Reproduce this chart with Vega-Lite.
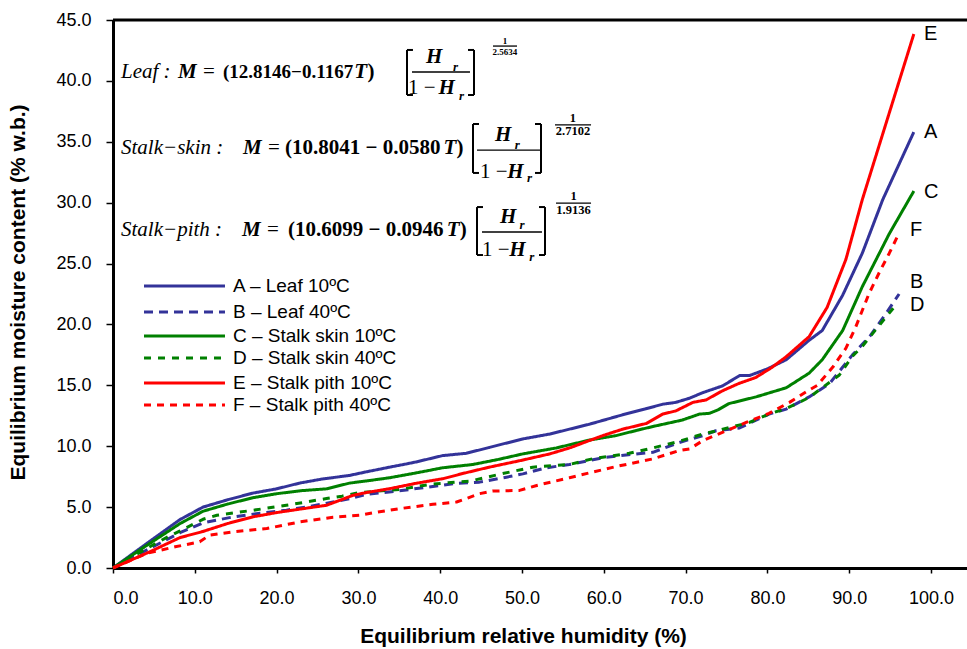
{
  "$schema": "https://vega.github.io/schema/vega-lite/v6.json",
  "width": 854,
  "height": 548,
  "autosize": {"type": "none"},
  "padding": {"left": 113, "top": 20, "right": 0, "bottom": 81},
  "background": "white",
  "config": {
    "view": {"stroke": null},
    "font": "Liberation Sans",
    "axis": {"grid": false, "domainColor": "black", "domainWidth": 3, "tickColor": "black", "tickWidth": 1.5, "labelColor": "black", "titleColor": "black", "labelFont": "Liberation Sans", "titleFont": "Liberation Sans", "labelFontSize": 18, "titleFontSize": 21, "titleFontWeight": "bold"}
  },
  "datasets": {
    "series": [
      {"k": "A", "label": "A – Leaf 10ºC"},
      {"k": "B", "label": "B – Leaf 40ºC"},
      {"k": "C", "label": "C – Stalk skin 10ºC"},
      {"k": "D", "label": "D – Stalk skin 40ºC"},
      {"k": "E", "label": "E – Stalk pith 10ºC"},
      {"k": "F", "label": "F – Stalk pith 40ºC"}
    ],
    "curves": [
      {"k":"A","x":0,"y":0},{"k":"A","x":4,"y":1.95},{"k":"A","x":8.2,"y":3.98},{"k":"A","x":11,"y":5.0},{"k":"A","x":14,"y":5.6},{"k":"A","x":17.1,"y":6.15},{"k":"A","x":20,"y":6.5},{"k":"A","x":22.8,"y":6.97},{"k":"A","x":25.5,"y":7.3},{"k":"A","x":28.9,"y":7.6},{"k":"A","x":31,"y":7.9},{"k":"A","x":33.8,"y":8.28},{"k":"A","x":35.9,"y":8.55},{"k":"A","x":37,"y":8.7},{"k":"A","x":40.3,"y":9.23},{"k":"A","x":43.2,"y":9.42},{"k":"A","x":46,"y":9.9},{"k":"A","x":50.1,"y":10.6},{"k":"A","x":53.4,"y":11.0},{"k":"A","x":58.2,"y":11.8},{"k":"A","x":62.3,"y":12.58},{"k":"A","x":65,"y":13.05},{"k":"A","x":67.2,"y":13.45},{"k":"A","x":68.8,"y":13.6},{"k":"A","x":70.5,"y":13.95},{"k":"A","x":72.1,"y":14.4},{"k":"A","x":74.5,"y":14.95},{"k":"A","x":76.6,"y":15.8},{"k":"A","x":77.8,"y":15.8},{"k":"A","x":80,"y":16.35},{"k":"A","x":82.3,"y":17.1},{"k":"A","x":85.1,"y":18.7},{"k":"A","x":86.7,"y":19.5},{"k":"A","x":89.2,"y":22.4},{"k":"A","x":91.6,"y":25.85},{"k":"A","x":94.1,"y":30.25},{"k":"A","x":97.9,"y":35.8},
      {"k":"B","x":0,"y":0},{"k":"B","x":4.1,"y":1.47},{"k":"B","x":8.2,"y":2.9},{"k":"B","x":11,"y":3.7},{"k":"B","x":14.7,"y":4.2},{"k":"B","x":18,"y":4.5},{"k":"B","x":21.2,"y":4.75},{"k":"B","x":24,"y":5.05},{"k":"B","x":26.9,"y":5.42},{"k":"B","x":29,"y":5.7},{"k":"B","x":31,"y":6.05},{"k":"B","x":34.6,"y":6.3},{"k":"B","x":39.1,"y":6.7},{"k":"B","x":42,"y":6.95},{"k":"B","x":44.8,"y":7.05},{"k":"B","x":48.1,"y":7.46},{"k":"B","x":50.1,"y":7.73},{"k":"B","x":53,"y":8.23},{"k":"B","x":55.8,"y":8.5},{"k":"B","x":60.3,"y":9.1},{"k":"B","x":63,"y":9.3},{"k":"B","x":66,"y":9.5},{"k":"B","x":69.2,"y":10.3},{"k":"B","x":72.1,"y":10.87},{"k":"B","x":73.7,"y":11.27},{"k":"B","x":76.6,"y":11.5},{"k":"B","x":80.2,"y":12.64},{"k":"B","x":82.3,"y":13.05},{"k":"B","x":85.1,"y":14.05},{"k":"B","x":87.6,"y":15.15},{"k":"B","x":90.4,"y":17.5},{"k":"B","x":92.6,"y":19.1},{"k":"B","x":94.5,"y":20.9},{"k":"B","x":96.1,"y":22.5},
      {"k":"C","x":0,"y":0},{"k":"C","x":4,"y":1.8},{"k":"C","x":8.2,"y":3.65},{"k":"C","x":11,"y":4.66},{"k":"C","x":14,"y":5.25},{"k":"C","x":17.1,"y":5.77},{"k":"C","x":20,"y":6.1},{"k":"C","x":23,"y":6.35},{"k":"C","x":26.1,"y":6.5},{"k":"C","x":28.9,"y":6.97},{"k":"C","x":31,"y":7.15},{"k":"C","x":33.8,"y":7.41},{"k":"C","x":37,"y":7.8},{"k":"C","x":40.3,"y":8.23},{"k":"C","x":44,"y":8.5},{"k":"C","x":47,"y":8.9},{"k":"C","x":50.1,"y":9.37},{"k":"C","x":54.2,"y":9.86},{"k":"C","x":58.2,"y":10.5},{"k":"C","x":61.5,"y":10.87},{"k":"C","x":64,"y":11.3},{"k":"C","x":66.4,"y":11.68},{"k":"C","x":69.6,"y":12.15},{"k":"C","x":71.7,"y":12.64},{"k":"C","x":72.9,"y":12.7},{"k":"C","x":74,"y":13.0},{"k":"C","x":75.3,"y":13.5},{"k":"C","x":78.6,"y":14.05},{"k":"C","x":82.3,"y":14.8},{"k":"C","x":85.1,"y":16.0},{"k":"C","x":86.7,"y":17.1},{"k":"C","x":89.2,"y":19.5},{"k":"C","x":91.6,"y":23.1},{"k":"C","x":94.9,"y":27.45},{"k":"C","x":97.9,"y":30.95},
      {"k":"D","x":0,"y":0},{"k":"D","x":4.1,"y":1.6},{"k":"D","x":6.7,"y":2.56},{"k":"D","x":8.2,"y":3.05},{"k":"D","x":11,"y":4.0},{"k":"D","x":12.7,"y":4.33},{"k":"D","x":14.7,"y":4.52},{"k":"D","x":17.1,"y":4.74},{"k":"D","x":21.2,"y":5.15},{"k":"D","x":26.1,"y":5.7},{"k":"D","x":28,"y":5.9},{"k":"D","x":30.2,"y":6.2},{"k":"D","x":35,"y":6.45},{"k":"D","x":39.1,"y":6.9},{"k":"D","x":43.6,"y":7.13},{"k":"D","x":47.6,"y":7.75},{"k":"D","x":51.3,"y":8.28},{"k":"D","x":55.8,"y":8.5},{"k":"D","x":58.6,"y":8.96},{"k":"D","x":63.1,"y":9.42},{"k":"D","x":66,"y":9.86},{"k":"D","x":69.2,"y":10.4},{"k":"D","x":72.1,"y":11.0},{"k":"D","x":74,"y":11.3},{"k":"D","x":77.8,"y":11.95},{"k":"D","x":80.2,"y":12.64},{"k":"D","x":82.3,"y":13.1},{"k":"D","x":85.1,"y":14.0},{"k":"D","x":88.8,"y":15.85},{"k":"D","x":90.4,"y":17.4},{"k":"D","x":91.6,"y":18.2},{"k":"D","x":93.7,"y":19.95},{"k":"D","x":95.4,"y":21.35},
      {"k":"E","x":0,"y":0},{"k":"E","x":4.5,"y":1.33},{"k":"E","x":8.2,"y":2.5},{"k":"E","x":11,"y":3.0},{"k":"E","x":14,"y":3.65},{"k":"E","x":17.1,"y":4.2},{"k":"E","x":20,"y":4.55},{"k":"E","x":23,"y":4.85},{"k":"E","x":26.1,"y":5.15},{"k":"E","x":27.5,"y":5.5},{"k":"E","x":29.3,"y":5.96},{"k":"E","x":31,"y":6.2},{"k":"E","x":33.8,"y":6.51},{"k":"E","x":37,"y":6.95},{"k":"E","x":40.3,"y":7.33},{"k":"E","x":43,"y":7.8},{"k":"E","x":46,"y":8.28},{"k":"E","x":50,"y":8.85},{"k":"E","x":53.4,"y":9.37},{"k":"E","x":56,"y":9.9},{"k":"E","x":58.2,"y":10.46},{"k":"E","x":60,"y":10.9},{"k":"E","x":62.3,"y":11.4},{"k":"E","x":65.2,"y":11.87},{"k":"E","x":67.2,"y":12.64},{"k":"E","x":68.8,"y":12.9},{"k":"E","x":70.9,"y":13.6},{"k":"E","x":72.5,"y":13.8},{"k":"E","x":74.5,"y":14.55},{"k":"E","x":76.5,"y":15.15},{"k":"E","x":78.6,"y":15.65},{"k":"E","x":80.5,"y":16.45},{"k":"E","x":82.3,"y":17.35},{"k":"E","x":85.1,"y":19.0},{"k":"E","x":87.3,"y":21.4},{"k":"E","x":89.6,"y":25.35},{"k":"E","x":91.6,"y":30.25},{"k":"E","x":97.9,"y":43.85},
      {"k":"F","x":0,"y":0},{"k":"F","x":4.1,"y":1.2},{"k":"F","x":7.6,"y":1.74},{"k":"F","x":10.6,"y":2.15},{"k":"F","x":11.8,"y":2.7},{"k":"F","x":14.7,"y":2.97},{"k":"F","x":18.8,"y":3.24},{"k":"F","x":22.8,"y":3.78},{"k":"F","x":26.9,"y":4.17},{"k":"F","x":30.2,"y":4.33},{"k":"F","x":32,"y":4.55},{"k":"F","x":35,"y":4.87},{"k":"F","x":39.1,"y":5.23},{"k":"F","x":42,"y":5.42},{"k":"F","x":43.2,"y":5.7},{"k":"F","x":44.8,"y":6.1},{"k":"F","x":46.4,"y":6.32},{"k":"F","x":49.7,"y":6.37},{"k":"F","x":51.8,"y":6.78},{"k":"F","x":55.8,"y":7.41},{"k":"F","x":58.6,"y":7.87},{"k":"F","x":61.5,"y":8.33},{"k":"F","x":66,"y":8.96},{"k":"F","x":69.2,"y":9.64},{"k":"F","x":70.5,"y":9.78},{"k":"F","x":72.1,"y":10.46},{"k":"F","x":74.5,"y":11.14},{"k":"F","x":77.4,"y":11.95},{"k":"F","x":80.2,"y":12.7},{"k":"F","x":82.7,"y":13.6},{"k":"F","x":84.7,"y":14.45},{"k":"F","x":86.1,"y":15.0},{"k":"F","x":88,"y":16.5},{"k":"F","x":89.6,"y":18.05},{"k":"F","x":90.8,"y":19.8},{"k":"F","x":92.4,"y":22.5},{"k":"F","x":93.7,"y":24.3},{"k":"F","x":94.9,"y":25.85},{"k":"F","x":96.1,"y":27.5}
    ],
    "legend": [
      {"k":"A","x":3.79,"y":23.16,"end":0},{"k":"A","x":13.69,"y":23.16,"end":1},
      {"k":"B","x":3.79,"y":21.02,"end":0},{"k":"B","x":13.69,"y":21.02,"end":1},
      {"k":"C","x":3.79,"y":19.05,"end":0},{"k":"C","x":13.69,"y":19.05,"end":1},
      {"k":"D","x":3.79,"y":17.24,"end":0},{"k":"D","x":13.69,"y":17.24,"end":1},
      {"k":"E","x":3.79,"y":15.19,"end":0},{"k":"E","x":13.69,"y":15.19,"end":1},
      {"k":"F","x":3.79,"y":13.38,"end":0},{"k":"F","x":13.69,"y":13.38,"end":1}
    ],
    "ends": [
      {"t":"E","x":99.15,"y":43.85},
      {"t":"A","x":99.15,"y":35.8},
      {"t":"C","x":99.15,"y":30.88},
      {"t":"F","x":97.44,"y":27.75},
      {"t":"B","x":97.44,"y":23.48},
      {"t":"D","x":97.44,"y":21.6}
    ],
    "eq": [
      {"st":"it","t":"Leaf :","x":0.98,"y":40.73},
      {"st":"bi","t":"M","x":7.95,"y":40.73},
      {"st":"n","t":"=","x":11.0,"y":40.73},
      {"st":"b1","t":"(12.8146−0.1167","x":13.45,"y":40.73},
      {"st":"bi","t":"T","x":29.5,"y":40.73},
      {"st":"b","t":")","x":31.1,"y":40.73},
      {"st":"bi","t":"H","x":38.26,"y":41.96},
      {"st":"sub","t":"r","x":41.56,"y":41.14},
      {"st":"n","t":"1 −","x":36.06,"y":39.41},
      {"st":"bi","t":"H","x":39.8,"y":39.41},
      {"st":"sub","t":"r","x":42.3,"y":38.76},
      {"st":"sup1","t":"1","x":47.92,"y":43.3},
      {"st":"sup1","t":"2.5634","x":47.92,"y":42.35},

      {"st":"it","t":"Stalk−skin :","x":0.98,"y":34.49},
      {"st":"bi","t":"M","x":15.89,"y":34.49},
      {"st":"n","t":"=","x":18.95,"y":34.49},
      {"st":"b","t":"(10.8041 − 0.0580","x":21.03,"y":34.49},
      {"st":"bi","t":"T","x":40.4,"y":34.49},
      {"st":"b","t":")","x":42.0,"y":34.49},
      {"st":"bi","t":"H","x":46.7,"y":35.56},
      {"st":"sub","t":"r","x":49.1,"y":34.73},
      {"st":"n","t":"1 −","x":44.87,"y":32.52},
      {"st":"bi","t":"H","x":48.2,"y":32.52},
      {"st":"sub","t":"r","x":50.6,"y":32.03},
      {"st":"sup","t":"1","x":56.23,"y":36.95},
      {"st":"sup","t":"2.7102","x":56.23,"y":35.85},

      {"st":"it","t":"Stalk−pith :","x":0.98,"y":27.75},
      {"st":"bi","t":"M","x":15.77,"y":27.75},
      {"st":"n","t":"=","x":18.83,"y":27.75},
      {"st":"b","t":"(10.6099 − 0.0946","x":21.39,"y":27.75},
      {"st":"bi","t":"T","x":40.8,"y":27.75},
      {"st":"b","t":")","x":42.4,"y":27.75},
      {"st":"bi","t":"H","x":47.31,"y":28.82},
      {"st":"sub","t":"r","x":49.7,"y":28.16},
      {"st":"n","t":"1 −","x":45.11,"y":26.11},
      {"st":"bi","t":"H","x":48.45,"y":26.11},
      {"st":"sub","t":"r","x":50.9,"y":25.54},
      {"st":"sup","t":"1","x":56.3,"y":30.55},
      {"st":"sup","t":"1.9136","x":56.3,"y":29.36}
    ],
    "rules": [
      {"kind":"br","x":35.94,"x2":35.94,"y":42.54,"y2":38.84},
      {"kind":"br","x":35.94,"x2":36.67,"y":42.54,"y2":42.54},
      {"kind":"br","x":35.94,"x2":36.67,"y":38.84,"y2":38.84},
      {"kind":"br","x":44.13,"x2":44.13,"y":42.54,"y2":38.84},
      {"kind":"br","x":43.4,"x2":44.13,"y":42.54,"y2":42.54},
      {"kind":"br","x":43.4,"x2":44.13,"y":38.84,"y2":38.84},
      {"kind":"fr","x":36.55,"x2":43.64,"y":40.73,"y2":40.73},
      {"kind":"fr","x":46.45,"x2":49.39,"y":42.86,"y2":42.86},

      {"kind":"br","x":44.01,"x2":44.01,"y":36.46,"y2":32.44},
      {"kind":"br","x":44.01,"x2":44.74,"y":36.46,"y2":36.46},
      {"kind":"br","x":44.01,"x2":44.74,"y":32.44,"y2":32.44},
      {"kind":"br","x":52.32,"x2":52.32,"y":36.46,"y2":32.44},
      {"kind":"br","x":51.59,"x2":52.32,"y":36.46,"y2":36.46},
      {"kind":"br","x":51.59,"x2":52.32,"y":32.44,"y2":32.44},
      {"kind":"fr","x":44.5,"x2":52.2,"y":34.32,"y2":34.32},
      {"kind":"fr","x":54.03,"x2":58.44,"y":36.38,"y2":36.38},

      {"kind":"br","x":44.5,"x2":44.5,"y":29.64,"y2":25.7},
      {"kind":"br","x":44.5,"x2":45.23,"y":29.64,"y2":29.64},
      {"kind":"br","x":44.5,"x2":45.23,"y":25.7,"y2":25.7},
      {"kind":"br","x":52.81,"x2":52.81,"y":29.64,"y2":25.7},
      {"kind":"br","x":52.08,"x2":52.81,"y":29.64,"y2":29.64},
      {"kind":"br","x":52.08,"x2":52.81,"y":25.7,"y2":25.7},
      {"kind":"fr","x":45.11,"x2":52.44,"y":27.59,"y2":27.59},
      {"kind":"fr","x":54.16,"x2":58.44,"y":29.97,"y2":29.97}
    ],
    "frame": [{"top": 45}]
  },
  "layer": [
    {
      "data": {"name": "curves"},
      "transform": [{"lookup": "k", "from": {"data": {"name": "series"}, "key": "k", "fields": ["label"]}}],
      "mark": {"type": "line", "strokeWidth": 3, "strokeCap": "butt", "strokeJoin": "round"},
      "encoding": {
        "x": {"field": "x", "type": "quantitative", "scale": {"domain": [0, 104.4], "nice": false, "zero": false},
          "axis": {"values": [0,10,20,30,40,50,60,70,80,90,100], "format": ".1f", "tickSize": 5, "labelPadding": 16, "title": "Equilibrium relative humidity (%)", "titleX": 410, "titleY": 68, "titleBaseline": "middle", "titleAnchor": null}},
        "y": {"field": "y", "type": "quantitative", "scale": {"domain": [0, 45], "nice": false},
          "axis": {"values": [0,5,10,15,20,25,30,35,40,45], "format": ".1f", "tickSize": 7, "labelPadding": 15, "title": "Equilibrium moisture content (% w.b.)", "titleX": -95, "titleY": 272, "titleBaseline": "middle", "titleAnchor": null}},
        "color": {"field": "label", "type": "nominal", "legend": null,
          "scale": {"domain": ["A – Leaf 10ºC", "B – Leaf 40ºC", "C – Stalk skin 10ºC", "D – Stalk skin 40ºC", "E – Stalk pith 10ºC", "F – Stalk pith 40ºC"], "range": ["#333399", "#333399", "#008000", "#008000", "#FF0000", "#FF0000"]}},
        "strokeDash": {"field": "label", "type": "nominal", "legend": null,
          "scale": {"domain": ["A – Leaf 10ºC", "B – Leaf 40ºC", "C – Stalk skin 10ºC", "D – Stalk skin 40ºC", "E – Stalk pith 10ºC", "F – Stalk pith 40ºC"], "range": [[1, 0], [9, 6], [1, 0], [7, 7], [1, 0], [7, 6]]}}
      }
    },
    {
      "data": {"name": "legend"},
      "transform": [{"lookup": "k", "from": {"data": {"name": "series"}, "key": "k", "fields": ["label"]}}],
      "mark": {"type": "line", "strokeWidth": 3, "strokeCap": "butt"},
      "encoding": {
        "x": {"field": "x", "type": "quantitative"},
        "y": {"field": "y", "type": "quantitative"},
        "color": {"field": "label", "type": "nominal", "legend": null},
        "strokeDash": {"field": "label", "type": "nominal", "legend": null}
      }
    },
    {
      "data": {"name": "legend"},
      "transform": [{"filter": "datum.end == 1"}, {"lookup": "k", "from": {"data": {"name": "series"}, "key": "k", "fields": ["label"]}}],
      "mark": {"type": "text", "align": "left", "baseline": "middle", "dx": 8, "font": "Liberation Sans", "fontSize": 19, "color": "black"},
      "encoding": {"x": {"field": "x", "type": "quantitative"}, "y": {"field": "y", "type": "quantitative"}, "text": {"field": "label"}}
    },
    {
      "data": {"name": "frame"},
      "mark": {"type": "rule", "color": "black", "strokeWidth": 3},
      "encoding": {"y": {"field": "top", "type": "quantitative"}}
    },
    {
      "data": {"name": "ends"},
      "mark": {"type": "text", "align": "left", "baseline": "middle", "font": "Liberation Sans", "fontSize": 20, "color": "black"},
      "encoding": {"x": {"field": "x", "type": "quantitative"}, "y": {"field": "y", "type": "quantitative"}, "text": {"field": "t"}}
    },
    {
      "data": {"name": "rules"},
      "transform": [{"filter": "datum.kind == 'br'"}],
      "mark": {"type": "rule", "color": "black", "strokeWidth": 2},
      "encoding": {"x": {"field": "x", "type": "quantitative"}, "x2": {"field": "x2"}, "y": {"field": "y", "type": "quantitative"}, "y2": {"field": "y2"}}
    },
    {
      "data": {"name": "rules"},
      "transform": [{"filter": "datum.kind == 'fr'"}],
      "mark": {"type": "rule", "color": "black", "strokeWidth": 1.3},
      "encoding": {"x": {"field": "x", "type": "quantitative"}, "x2": {"field": "x2"}, "y": {"field": "y", "type": "quantitative"}, "y2": {"field": "y2"}}
    },
    {
      "data": {"name": "eq"},
      "transform": [{"filter": "datum.st == 'it'"}],
      "mark": {"type": "text", "align": "left", "baseline": "middle", "font": "Liberation Serif", "fontStyle": "italic", "fontSize": 21, "color": "black"},
      "encoding": {"x": {"field": "x", "type": "quantitative"}, "y": {"field": "y", "type": "quantitative"}, "text": {"field": "t"}}
    },
    {
      "data": {"name": "eq"},
      "transform": [{"filter": "datum.st == 'bi'"}],
      "mark": {"type": "text", "align": "left", "baseline": "middle", "font": "Liberation Serif", "fontStyle": "italic", "fontWeight": "bold", "fontSize": 21, "color": "black"},
      "encoding": {"x": {"field": "x", "type": "quantitative"}, "y": {"field": "y", "type": "quantitative"}, "text": {"field": "t"}}
    },
    {
      "data": {"name": "eq"},
      "transform": [{"filter": "datum.st == 'n'"}],
      "mark": {"type": "text", "align": "left", "baseline": "middle", "font": "Liberation Serif", "fontSize": 21, "color": "black"},
      "encoding": {"x": {"field": "x", "type": "quantitative"}, "y": {"field": "y", "type": "quantitative"}, "text": {"field": "t"}}
    },
    {
      "data": {"name": "eq"},
      "transform": [{"filter": "datum.st == 'b'"}],
      "mark": {"type": "text", "align": "left", "baseline": "middle", "font": "Liberation Serif", "fontWeight": "bold", "fontSize": 21, "color": "black"},
      "encoding": {"x": {"field": "x", "type": "quantitative"}, "y": {"field": "y", "type": "quantitative"}, "text": {"field": "t"}}
    },
    {
      "data": {"name": "eq"},
      "transform": [{"filter": "datum.st == 'b1'"}],
      "mark": {"type": "text", "align": "left", "baseline": "middle", "font": "Liberation Serif", "fontWeight": "bold", "fontSize": 19, "color": "black"},
      "encoding": {"x": {"field": "x", "type": "quantitative"}, "y": {"field": "y", "type": "quantitative"}, "text": {"field": "t"}}
    },
    {
      "data": {"name": "eq"},
      "transform": [{"filter": "datum.st == 'sub'"}],
      "mark": {"type": "text", "align": "left", "baseline": "middle", "font": "Liberation Serif", "fontStyle": "italic", "fontWeight": "bold", "fontSize": 13, "color": "black"},
      "encoding": {"x": {"field": "x", "type": "quantitative"}, "y": {"field": "y", "type": "quantitative"}, "text": {"field": "t"}}
    },
    {
      "data": {"name": "eq"},
      "transform": [{"filter": "datum.st == 'sup'"}],
      "mark": {"type": "text", "align": "center", "baseline": "middle", "font": "Liberation Serif", "fontWeight": "bold", "fontSize": 12.5, "color": "black"},
      "encoding": {"x": {"field": "x", "type": "quantitative"}, "y": {"field": "y", "type": "quantitative"}, "text": {"field": "t"}}
    },
    {
      "data": {"name": "eq"},
      "transform": [{"filter": "datum.st == 'sup1'"}],
      "mark": {"type": "text", "align": "center", "baseline": "middle", "font": "Liberation Serif", "fontWeight": "bold", "fontSize": 9, "color": "black"},
      "encoding": {"x": {"field": "x", "type": "quantitative"}, "y": {"field": "y", "type": "quantitative"}, "text": {"field": "t"}}
    }
  ]
}
